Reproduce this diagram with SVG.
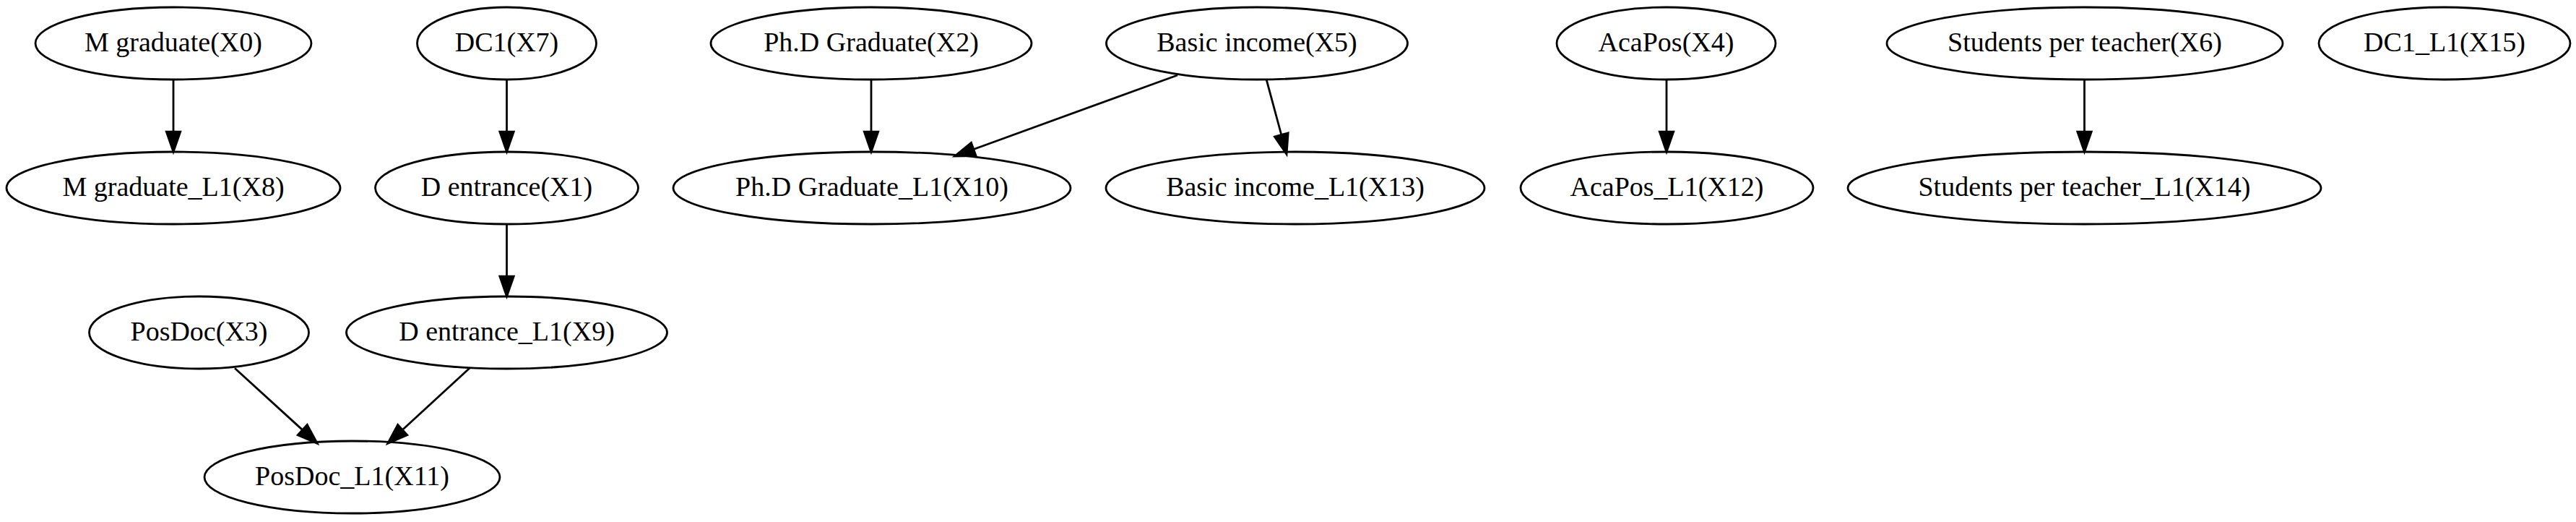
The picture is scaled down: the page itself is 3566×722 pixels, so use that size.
<svg xmlns="http://www.w3.org/2000/svg" width="3566" height="722" viewBox="0 0 3566 722">
<style>
.node ellipse{fill:none;stroke:#000;stroke-width:2.8}
.node text{font-size:38px;text-anchor:middle;fill:#000}
.edge{fill:none;stroke:#000;stroke-width:2.8;marker-end:url(#ah)}
</style>
<defs>
<marker id="ah" markerUnits="userSpaceOnUse" markerWidth="30" markerHeight="22" refX="0" refY="0" orient="auto" viewBox="0 -11 30 22" overflow="visible">
<path d="M0,-9.7 L27.8,0 L0,9.7 Z" fill="#000" stroke="#000" stroke-width="2.8" stroke-linejoin="miter"/>
</marker>
</defs>
<rect width="3566" height="722" fill="#fff"/>
<g id="connectors">
<line class="edge" x1="240" y1="110" x2="240" y2="182.2"/>
<line class="edge" x1="701.5" y1="110" x2="701.5" y2="182.2"/>
<line class="edge" x1="701.5" y1="310" x2="701.5" y2="382.2"/>
<line class="edge" x1="325" y1="509.3" x2="418.7" y2="594.6"/>
<line class="edge" x1="650" y1="509.3" x2="557.2" y2="594.5"/>
<line class="edge" x1="1206" y1="110" x2="1206" y2="182.2"/>
<line class="edge" x1="1630" y1="104" x2="1347.8" y2="206.5"/>
<line class="edge" x1="1753.3" y1="110.7" x2="1773.8" y2="186.5"/>
<line class="edge" x1="2307" y1="110" x2="2307" y2="182.2"/>
<line class="edge" x1="2885.5" y1="110" x2="2885.5" y2="182.2"/>
</g>
<g font-family="Liberation Serif, Times New Roman, serif">
<g id="X0" class="node"><ellipse cx="240" cy="60" rx="191" ry="50"/><text x="240" y="70.5">M graduate(X0)</text></g>
<g id="X7" class="node"><ellipse cx="701.5" cy="60" rx="124" ry="50"/><text x="701.5" y="70.5">DC1(X7)</text></g>
<g id="X2" class="node"><ellipse cx="1206" cy="60" rx="222" ry="50"/><text x="1206" y="70.5">Ph.D Graduate(X2)</text></g>
<g id="X5" class="node"><ellipse cx="1740" cy="60" rx="208.5" ry="50"/><text x="1740" y="70.5">Basic income(X5)</text></g>
<g id="X4" class="node"><ellipse cx="2306.5" cy="60" rx="151.5" ry="50"/><text x="2306.5" y="70.5">AcaPos(X4)</text></g>
<g id="X6" class="node"><ellipse cx="2886" cy="60" rx="274" ry="50"/><text x="2886" y="70.5">Students per teacher(X6)</text></g>
<g id="X15" class="node"><ellipse cx="3384" cy="60" rx="174" ry="50"/><text x="3384" y="70.5">DC1_L1(X15)</text></g>
<g id="X8" class="node"><ellipse cx="240" cy="260" rx="231" ry="50"/><text x="240" y="270.5">M graduate_L1(X8)</text></g>
<g id="X1" class="node"><ellipse cx="701.5" cy="260" rx="182" ry="50"/><text x="701.5" y="270.5">D entrance(X1)</text></g>
<g id="X10" class="node"><ellipse cx="1207" cy="260" rx="275" ry="50"/><text x="1207" y="270.5">Ph.D Graduate_L1(X10)</text></g>
<g id="X13" class="node"><ellipse cx="1793" cy="260" rx="262" ry="50"/><text x="1793" y="270.5">Basic income_L1(X13)</text></g>
<g id="X12" class="node"><ellipse cx="2307.5" cy="260" rx="202.5" ry="50"/><text x="2307.5" y="270.5">AcaPos_L1(X12)</text></g>
<g id="X14" class="node"><ellipse cx="2885.5" cy="260" rx="327.5" ry="50"/><text x="2885.5" y="270.5">Students per teacher_L1(X14)</text></g>
<g id="X3" class="node"><ellipse cx="275.5" cy="460" rx="152" ry="50"/><text x="275.5" y="470.5">PosDoc(X3)</text></g>
<g id="X9" class="node"><ellipse cx="701.5" cy="460" rx="222" ry="50"/><text x="701.5" y="470.5">D entrance_L1(X9)</text></g>
<g id="X11" class="node"><ellipse cx="487.5" cy="660" rx="204.5" ry="50"/><text x="487.5" y="670.5">PosDoc_L1(X11)</text></g>
</g>
</svg>
